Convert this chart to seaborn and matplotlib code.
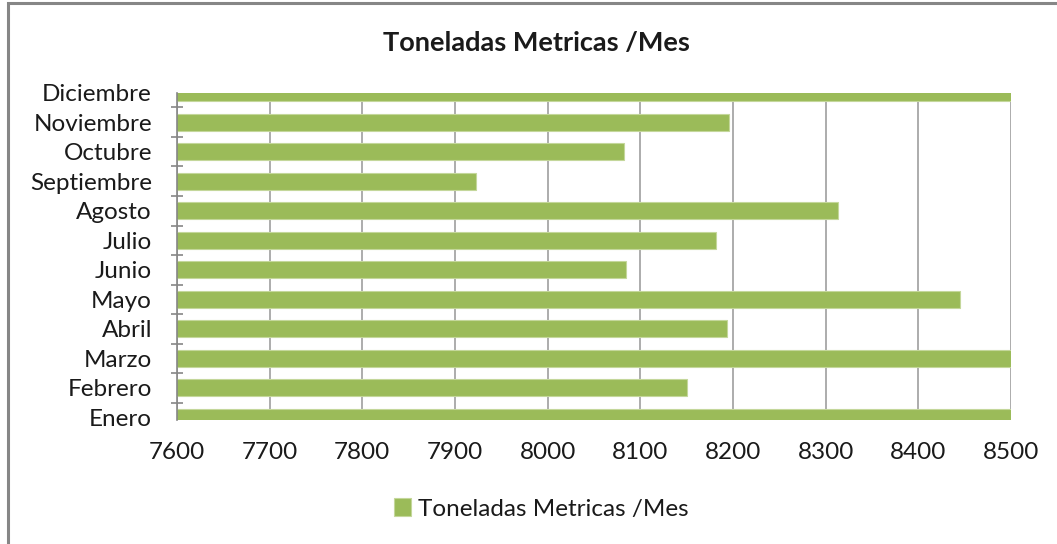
import matplotlib
matplotlib.use('Agg')
import matplotlib.pyplot as plt
import seaborn as sns
import pandas as pd
from matplotlib.patches import Rectangle

# datos (Enero, Marzo y Diciembre salen cortados en 8500, valor estimado)
meses = ['Enero', 'Febrero', 'Marzo', 'Abril', 'Mayo', 'Junio',
         'Julio', 'Agosto', 'Septiembre', 'Octubre', 'Noviembre', 'Diciembre']
toneladas = [8550, 8150, 8550, 8194, 8445, 8084,
             8182, 8313, 7923, 8082, 8196, 8550]
ticks_x = [7600, 7700, 7800, 7900, 8000, 8100, 8200, 8300, 8400, 8500]

df = pd.DataFrame({'Mes': meses, 'Toneladas': toneladas})
orden = meses[::-1]  # Diciembre arriba

sns.set_style('white')
plt.rcParams['font.family'] = ['Lato', 'DejaVu Sans']
color_texto = '#1a1a1a'

fig = plt.figure(figsize=(10.57, 5.44), dpi=100)
ax = fig.add_axes([177 / 1057, 1 - 420 / 544, 834 / 1057, 327.3 / 544])

sns.barplot(data=df, x='Toneladas', y='Mes', order=orden, orient='h',
            color='#9bbb59', saturation=1, width=0.58,
            edgecolor='#c4d79b', linewidth=0.8,
            label='Toneladas Metricas /Mes', ax=ax)

ax.set_xlim(7600, 8500)
ax.set_ylim(11.09, 0.0)
ax.set_xticks(ticks_x)
ax.set_xlabel('')
ax.set_ylabel('')

# rejilla vertical
ax.grid(True, axis='x', color='#a6a6a6', linewidth=1.3)
ax.set_axisbelow(True)
for s in ['top', 'right', 'bottom']:
    ax.spines[s].set_visible(False)
ax.spines['left'].set_color('#868686')
ax.spines['left'].set_linewidth(1.2)

# marcas del eje y entre categorias
ax.set_yticks([i + 0.5 for i in range(11)] + [0.0], minor=True)
ax.tick_params(axis='y', which='minor', direction='inout', length=9,
               color='#868686', width=1.2, left=True)
ax.tick_params(axis='y', which='major', length=0, pad=18,
               labelsize=17.5, labelcolor=color_texto)
ax.tick_params(axis='x', which='major', length=0, pad=16,
               labelsize=17.5, labelcolor=color_texto)

fig.text(536 / 1057, 1 - 43 / 544, 'Toneladas Metricas /Mes', ha='center',
         va='center', fontsize=19.5, fontweight='bold', color=color_texto)

if ax.get_legend() is not None:
    ax.get_legend().remove()
handles, labels = ax.get_legend_handles_labels()
fig.legend(handles, labels, loc='center', bbox_to_anchor=(541 / 1057, 1 - 509 / 544),
           frameon=False, fontsize=17.5, handlelength=0.7, handleheight=0.7,
           handletextpad=0.3, labelcolor=color_texto)

# marco exterior (solo se ven el lado izquierdo y el superior)
fig.patches.append(Rectangle((8 / 1057, -0.05), 1.1, 1 - 3 / 544 + 0.05,
                             transform=fig.transFigure, fill=False,
                             edgecolor='#868686', linewidth=2.2))

fig.savefig('out.png', dpi=100)
